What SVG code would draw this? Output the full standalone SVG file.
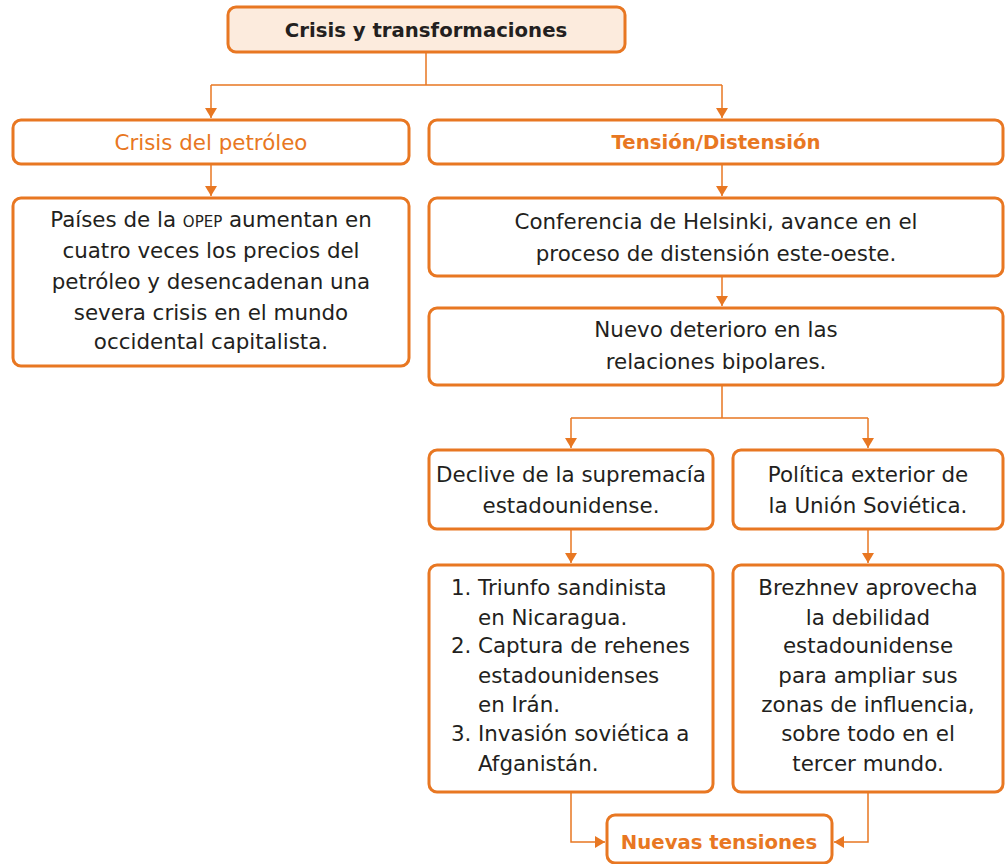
<svg xmlns="http://www.w3.org/2000/svg" width="1006" height="864" viewBox="0 0 1006 864">
<defs>
<marker id="ah" viewBox="0 0 10 12" refX="10" refY="6" markerWidth="10" markerHeight="12" markerUnits="userSpaceOnUse" orient="auto">
<path d="M0,0 L10,6 L0,12 Z" fill="#E87722"/>
</marker>
<style>
.box{fill:#fff;stroke:#E87722;stroke-width:3}
.top{fill:#FCEBDD}
.t{font-family:"DejaVu Sans","Noto Sans",sans-serif;font-size:21.4px;fill:#231F20;text-anchor:middle}
.o{fill:#E87722}
.b{font-weight:bold;font-size:19.7px}
.c{fill:none;stroke:#E87722;stroke-width:1.5}
.sc{font-size:15px}
.l{text-anchor:start}
</style>
</defs>
<g id="connectors">
<path class="c" d="M426,52 V85 M211,85 H722"/>
<path class="c" d="M211,85 V118" marker-end="url(#ah)"/>
<path class="c" d="M722,85 V118" marker-end="url(#ah)"/>
<path class="c" d="M211,164 V196" marker-end="url(#ah)"/>
<path class="c" d="M722,164 V196" marker-end="url(#ah)"/>
<path class="c" d="M722,276 V306" marker-end="url(#ah)"/>
<path class="c" d="M722,385 V418 M571,418 H868"/>
<path class="c" d="M571,418 V448" marker-end="url(#ah)"/>
<path class="c" d="M868,418 V448" marker-end="url(#ah)"/>
<path class="c" d="M571,529 V563" marker-end="url(#ah)"/>
<path class="c" d="M868,529 V563" marker-end="url(#ah)"/>
<path class="c" d="M571,792 V842 H605" marker-end="url(#ah)"/>
<path class="c" d="M868,792 V842 H834" marker-end="url(#ah)"/>
</g>
<g id="n-crisis-transformaciones">
<rect class="box top" x="228" y="7" width="397" height="45" rx="8"/>
<text class="t b" x="426" y="37">Crisis y transformaciones</text>
</g>
<g id="n-crisis-petroleo">
<rect class="box" x="13" y="120" width="396" height="44" rx="8"/>
<text class="t o" x="211" y="150">Crisis del petróleo</text>
</g>
<g id="n-tension">
<rect class="box" x="429" y="120" width="574" height="44" rx="8"/>
<text class="t o b" x="716" y="149">Tensión/Distensión</text>
</g>
<g id="n-opep">
<rect class="box" x="13" y="198" width="396" height="168" rx="8"/>
<text class="t" x="211" y="227">Países de la <tspan class="sc">OPEP</tspan> aumentan en</text>
<text class="t" x="211" y="258">cuatro veces los precios del</text>
<text class="t" x="211" y="289">petróleo y desencadenan una</text>
<text class="t" x="211" y="320">severa crisis en el mundo</text>
<text class="t" x="211" y="349">occidental capitalista.</text>
</g>
<g id="n-helsinki">
<rect class="box" x="429" y="198" width="574" height="78" rx="8"/>
<text class="t" x="716" y="229">Conferencia de Helsinki, avance en el</text>
<text class="t" x="716" y="261">proceso de distensión este-oeste.</text>
</g>
<g id="n-deterioro">
<rect class="box" x="429" y="308" width="574" height="77" rx="8"/>
<text class="t" x="716" y="337">Nuevo deterioro en las</text>
<text class="t" x="716" y="369">relaciones bipolares.</text>
</g>
<g id="n-declive">
<rect class="box" x="429" y="450" width="284" height="79" rx="8"/>
<text class="t" x="571" y="482">Declive de la supremacía</text>
<text class="t" x="571" y="513">estadounidense.</text>
</g>
<g id="n-politica">
<rect class="box" x="733" y="450" width="270" height="79" rx="8"/>
<text class="t" x="868" y="482">Política exterior de</text>
<text class="t" x="868" y="513">la Unión Soviética.</text>
</g>
<g id="n-lista">
<rect class="box" x="429" y="565" width="284" height="227" rx="8"/>
<text class="t l" x="451" y="595">1.</text>
<text class="t l" x="478" y="595">Triunfo sandinista</text>
<text class="t l" x="478" y="625">en Nicaragua.</text>
<text class="t l" x="451" y="653">2.</text>
<text class="t l" x="478" y="653">Captura de rehenes</text>
<text class="t l" x="478" y="683">estadounidenses</text>
<text class="t l" x="478" y="712">en Irán.</text>
<text class="t l" x="451" y="741">3.</text>
<text class="t l" x="478" y="741">Invasión soviética a</text>
<text class="t l" x="478" y="771">Afganistán.</text>
</g>
<g id="n-brezhnev">
<rect class="box" x="733" y="565" width="270" height="227" rx="8"/>
<text class="t" x="868" y="595">Brezhnev aprovecha</text>
<text class="t" x="868" y="625">la debilidad</text>
<text class="t" x="868" y="653">estadounidense</text>
<text class="t" x="868" y="683">para ampliar sus</text>
<text class="t" x="868" y="712">zonas de influencia,</text>
<text class="t" x="868" y="741">sobre todo en el</text>
<text class="t" x="868" y="771">tercer mundo.</text>
</g>
<g id="n-nuevas">
<rect class="box" x="607" y="815" width="225" height="48" rx="8"/>
<text class="t o b" x="719" y="849">Nuevas tensiones</text>
</g>
</svg>
